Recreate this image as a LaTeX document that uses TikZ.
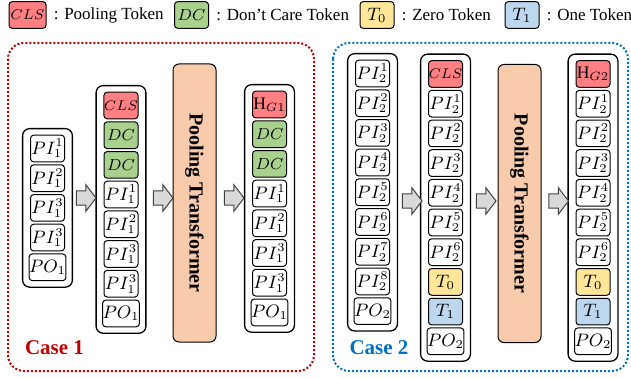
\documentclass[tikz,border=0pt]{standalone}
\usepackage{fontspec}
\setmainfont{Liberation Serif}
\usepackage{tikz}
\usetikzlibrary{positioning,fit,shapes.arrows}

\definecolor{clsred}{HTML}{FF7F82}
\definecolor{dcgreen}{HTML}{A9D18E}
\definecolor{zeroyellow}{HTML}{FFE699}
\definecolor{oneblue}{HTML}{BDD7EE}
\definecolor{ptpeach}{HTML}{F8CBAD}
\definecolor{caseone}{HTML}{C00000}
\definecolor{casetwo}{HTML}{0070C0}

\newcommand{\clsfont}{\fontsize{7}{8}\selectfont}
\newcommand{\dcfont}{\fontsize{8}{9}\selectfont}

\tikzset{
  tok/.style={draw, rounded corners=1.6pt, minimum width=17pt, minimum height=13.35pt,
              inner sep=0pt, line width=0.5pt, font=\fontsize{8.8}{10}\selectfont},
  clstok/.style={tok, fill=clsred},
  dctok/.style={tok, fill=dcgreen},
  zerotok/.style={tok, fill=zeroyellow},
  onetok/.style={tok, fill=oneblue},
  seq/.style={draw, rounded corners=3.5pt, line width=0.65pt, inner sep=3pt},
  pool/.style={draw, fill=ptpeach, rounded corners=3pt, line width=0.5pt, rotate=-90,
               minimum width=139pt, minimum height=21.5pt, inner sep=0pt,
               font=\fontsize{10}{12}\selectfont\bfseries},
  bigarrow/.style={single arrow, draw=black!75, fill=black!15, line width=0.5pt,
                   minimum height=9.8pt, inner xsep=1pt, inner ysep=3.3pt,
                   single arrow head extend=3.1pt, single arrow tip angle=105},
  legtext/.style={inner sep=1pt, font=\fontsize{8.5}{10}\selectfont},
  casebox/.style={line width=1pt, dash pattern=on 1pt off 1pt, rounded corners=8pt},
  caselabel/.style={inner sep=0pt, font=\fontsize{10.5}{12}\selectfont\bfseries},
}

\begin{document}
\begin{tikzpicture}[x=0.5pt, y=-0.5pt]
  \useasboundingbox (0,0) rectangle (631,379);

  % legend
  \node (lgCLS)  [clstok, minimum width=18.5pt] at (27.5,15) {\clsfont$CLS$};
  \node (lgCLSt) [legtext, right=2.5pt of lgCLS] {: Pooling Token};
  \node (lgDC)   [dctok] at (191.5,15)               {\dcfont$DC$};
  \node (lgDCt)  [legtext, right=2.5pt of lgDC]  {: Don’t Care Token};
  \node (lgT0)   [zerotok] at (377,15)               {$T_0$};
  \node (lgT0t)  [legtext, right=2.5pt of lgT0]  {: Zero Token};
  \node (lgT1)   [onetok] at (522,15)                {$T_1$};
  \node (lgT1t)  [legtext, right=2.5pt of lgT1]  {: One Token};

  % case 1
  \draw[casebox, caseone] (8,43) rectangle (314,371);
  \node (case1) [caselabel, text=caseone] at (54.5,348) {Case 1};

  \node (xPI1) [tok] at (47.5,148.5)      {$PI_1^1$};
  \node (xPI2) [tok, below=1pt of xPI1]   {$PI_1^2$};
  \node (xPI3) [tok, below=1pt of xPI2]   {$PI_1^3$};
  \node (xPI4) [tok, below=1pt of xPI3]   {$PI_1^3$};
  \node (xPO)  [tok, below=1pt of xPI4]   {$PO_1$};
  \node (x)    [seq, fit=(xPI1) (xPO)] {};

  \node (yCLS) [clstok] at (121,105.5)    {\clsfont$CLS$};
  \node (yDC1) [dctok, below=1pt of yCLS] {\dcfont$DC$};
  \node (yDC2) [dctok, below=1pt of yDC1] {\dcfont$DC$};
  \node (yPI1) [tok, below=1pt of yDC2]   {$PI_1^1$};
  \node (yPI2) [tok, below=1pt of yPI1]   {$PI_1^2$};
  \node (yPI3) [tok, below=1pt of yPI2]   {$PI_1^3$};
  \node (yPI4) [tok, below=1pt of yPI3]   {$PI_1^3$};
  \node (yPO)  [tok, below=1pt of yPI4]   {$PO_1$};
  \node (y)    [seq, fit=(yCLS) (yPO)] {};

  \node (PT1)  [pool] at (194.5,203) {Pooling Transformer};

  \node (zHG)  [clstok] at (269.5,104.5)  {$\mathrm{H}_{G1}$};
  \node (zDC1) [dctok, below=1pt of zHG]  {\dcfont$DC$};
  \node (zDC2) [dctok, below=1pt of zDC1] {\dcfont$DC$};
  \node (zPI1) [tok, below=1pt of zDC2]   {$PI_1^1$};
  \node (zPI2) [tok, below=1pt of zPI1]   {$PI_1^2$};
  \node (zPI3) [tok, below=1pt of zPI2]   {$PI_1^3$};
  \node (zPI4) [tok, below=1pt of zPI3]   {$PI_1^3$};
  \node (zPO)  [tok, below=1pt of zPI4]   {$PO_1$};
  \node (z)    [seq, fit=(zHG) (zPO)] {};

  \node (xy)   [bigarrow] at (83.5,198)  {};
  \node (yPT)  [bigarrow] at (160.5,198) {};
  \node (PTz)  [bigarrow] at (231.5,198) {};

  % case 2
  \draw[casebox, casetwo] (333,43) rectangle (628,371);
  \node (case2) [caselabel, text=casetwo] at (379,348) {Case 2};

  \node (uPI1) [tok] at (372.5,73.5)      {$PI_2^1$};
  \node (uPI2) [tok, below=1pt of uPI1]   {$PI_2^2$};
  \node (uPI3) [tok, below=1pt of uPI2]   {$PI_2^3$};
  \node (uPI4) [tok, below=1pt of uPI3]   {$PI_2^4$};
  \node (uPI5) [tok, below=1pt of uPI4]   {$PI_2^5$};
  \node (uPI6) [tok, below=1pt of uPI5]   {$PI_2^6$};
  \node (uPI7) [tok, below=1pt of uPI6]   {$PI_2^7$};
  \node (uPI8) [tok, below=1pt of uPI7]   {$PI_2^8$};
  \node (uPO)  [tok, below=1pt of uPI8]   {$PO_2$};
  \node (u)    [seq, fit=(uPI1) (uPO)] {};

  \node (vCLS) [clstok] at (445.5,74)     {\clsfont$CLS$};
  \node (vPI1) [tok, below=1pt of vCLS]   {$PI_2^1$};
  \node (vPI2) [tok, below=1pt of vPI1]   {$PI_2^2$};
  \node (vPI3) [tok, below=1pt of vPI2]   {$PI_2^3$};
  \node (vPI4) [tok, below=1pt of vPI3]   {$PI_2^4$};
  \node (vPI5) [tok, below=1pt of vPI4]   {$PI_2^5$};
  \node (vPI6) [tok, below=1pt of vPI5]   {$PI_2^6$};
  \node (vT0)  [zerotok, below=1pt of vPI6] {$T_0$};
  \node (vT1)  [onetok, below=1pt of vT0] {$T_1$};
  \node (vPO)  [tok, below=1pt of vT1]    {$PO_2$};
  \node (v)    [seq, fit=(vCLS) (vPO)] {};

  \node (PT2)  [pool] at (519.5,203.5) {Pooling Transformer};

  \node (wHG)  [clstok] at (593,74)       {$\mathrm{H}_{G2}$};
  \node (wPI1) [tok, below=1pt of wHG]    {$PI_2^1$};
  \node (wPI2) [tok, below=1pt of wPI1]   {$PI_2^2$};
  \node (wPI3) [tok, below=1pt of wPI2]   {$PI_2^3$};
  \node (wPI4) [tok, below=1pt of wPI3]   {$PI_2^4$};
  \node (wPI5) [tok, below=1pt of wPI4]   {$PI_2^5$};
  \node (wPI6) [tok, below=1pt of wPI5]   {$PI_2^6$};
  \node (wT0)  [zerotok, below=1pt of wPI6] {$T_0$};
  \node (wT1)  [onetok, below=1pt of wT0] {$T_1$};
  \node (wPO)  [tok, below=1pt of wT1]    {$PO_2$};
  \node (w)    [seq, fit=(wHG) (wPO)] {};

  \node (uv)   [bigarrow] at (409.5,201) {};
  \node (vPT)  [bigarrow] at (483.5,201) {};
  \node (PTw)  [bigarrow] at (556,201)   {};
\end{tikzpicture}
\end{document}
